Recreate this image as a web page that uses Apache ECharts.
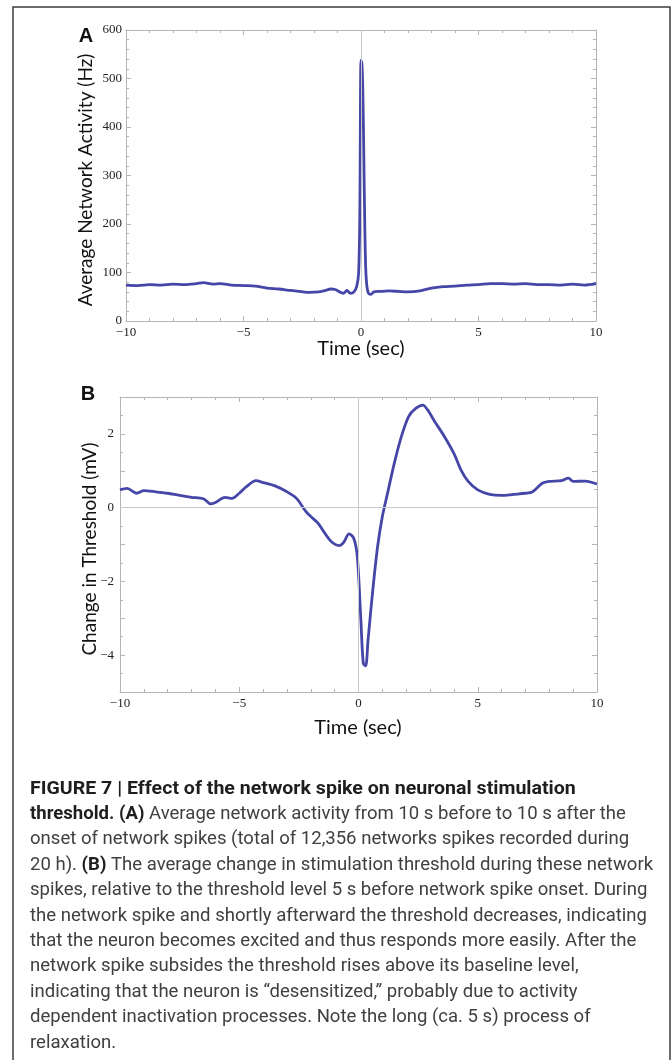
<!DOCTYPE html>
<html>
<head>
<meta charset="utf-8">
<script src="https://cdn.jsdelivr.net/npm/echarts@6/dist/echarts.min.js"></script>
<style>
  html, body { margin: 0; padding: 0; background: #fff; }
  #chart { width: 671px; height: 1060px; }
</style>
</head>
<body>
<div id="chart"></div>
<script>
// ---------- Data ----------
// Panel A: average network activity (Hz) vs time (sec)
const timeA = [-10, -9.5, -9, -8.5, -8, -7.5, -7, -6.7, -6.3, -6, -5.5, -5, -4.5, -4, -3.5, -3, -2.6, -2.2, -1.8, -1.5, -1.3, -1.1, -0.9, -0.75, -0.6, -0.45, -0.3, -0.18, -0.1, -0.05, 0, 0.04, 0.08, 0.12, 0.16, 0.2, 0.25, 0.32, 0.42, 0.55, 0.8, 1.2, 1.6, 2, 2.5, 3, 3.5, 4, 4.5, 5, 5.5, 6, 6.5, 7, 7.5, 8, 8.5, 9, 9.5, 10];
const activityA = [74, 73, 75, 74, 76, 75, 77, 79, 76, 77, 74, 73, 72, 68, 66, 63, 61, 59, 60, 63, 66, 65, 60, 57, 63, 57, 60, 72, 100, 220, 538, 530, 470, 340, 200, 110, 72, 57, 55, 60, 61, 62, 61, 60, 62, 68, 71, 72, 74, 75, 77, 77, 76, 77, 75, 75, 74, 76, 74, 77];

// Panel B: change in threshold (mV) vs time (sec)
const timeB = [-10, -9.7, -9.3, -9, -8.5, -8, -7.5, -7, -6.5, -6.2, -6, -5.6, -5.3, -5, -4.7, -4.3, -4, -3.5, -3, -2.6, -2.2, -2, -1.7, -1.5, -1.2, -1, -0.8, -0.6, -0.4, -0.2, -0.05, 0.1, 0.2, 0.3, 0.4, 0.6, 0.8, 1, 1.2, 1.5, 1.8, 2.1, 2.4, 2.7, 2.9, 3.2, 3.6, 4, 4.3, 4.6, 5, 5.5, 6, 6.5, 7, 7.3, 7.7, 8, 8.5, 8.8, 9, 9.5, 10];
const thresholdB = [0.48, 0.52, 0.39, 0.46, 0.43, 0.39, 0.33, 0.28, 0.24, 0.1, 0.14, 0.28, 0.25, 0.39, 0.57, 0.73, 0.68, 0.59, 0.43, 0.25, -0.11, -0.24, -0.42, -0.61, -0.88, -0.99, -1.03, -0.92, -0.71, -0.83, -1.33, -3.05, -4.22, -4.29, -3.59, -2.23, -1.06, -0.24, 0.34, 1.2, 1.93, 2.47, 2.69, 2.78, 2.65, 2.33, 1.93, 1.47, 1.02, 0.71, 0.48, 0.36, 0.33, 0.36, 0.39, 0.43, 0.66, 0.71, 0.73, 0.8, 0.71, 0.72, 0.64];

// Axis ranges / ticks
const xRange = [-10, 10];
const xStep = 5;
const yRangeA = [0, 600];
const yStepA = 100;
const yRangeB = [-5, 3];
const yStepB = 1;          // tick step; labels shown every 2
const yLabelStepB = 2;

// Text
const panelLetters = ['A', 'B'];
const xTitle = 'Time (sec)';
const yTitleA = 'Average Network Activity (Hz)';
const yTitleB = 'Change in Threshold (mV)';
const captionLines = [
  '{h|FIGURE 7 | Effect of the network spike on neuronal stimulation}',
  '{b|threshold. (A)} Average network activity from 10 s before to 10 s after the',
  'onset of network spikes (total of 12,356 networks spikes recorded during',
  '20 h). {b|(B)} The average change in stimulation threshold during these network',
  'spikes, relative to the threshold level 5 s before network spike onset. During',
  'the network spike and shortly afterward the threshold decreases, indicating',
  'that the neuron becomes excited and thus responds more easily. After the',
  'network spike subsides the threshold rises above its baseline level,',
  'indicating that the neuron is \u201Cdesensitized,\u201D probably due to activity',
  'dependent inactivation processes. Note the long (ca. 5 s) process of',
  'relaxation.'
];

// ---------- Styles ----------
const LINE_COLOR = '#4646a8';
const FRAME_COLOR = '#b5b5b5';
const LABEL_FONT = '"Liberation Serif", "DejaVu Serif", serif';
const TITLE_FONT = 'Lato, "Open Sans", sans-serif';
const CAPTION_FONT = 'Roboto, "Liberation Sans", sans-serif';

const fmt = v => String(v).replace('-', '\u2212');
const fmtB = v => (Math.round(v) % yLabelStepB === 0 ? fmt(v) : '');

function axisBase(extra) {
  return Object.assign({
    type: 'value',
    axisLine: { show: true, onZero: false, lineStyle: { color: FRAME_COLOR, width: 1 } },
    axisTick: { show: true, inside: true, length: 5, lineStyle: { color: FRAME_COLOR } },
    splitLine: { show: false }
  }, extra);
}
function labelStyle(formatter, margin) {
  return { show: true, margin, fontFamily: LABEL_FONT, fontSize: 13, color: '#222', formatter };
}

const xs = [];
[0, 1].forEach(g => {
  const common = { gridIndex: g, min: xRange[0], max: xRange[1], interval: xStep,
    minorTick: { show: true, splitNumber: 5, length: 3, lineStyle: { color: FRAME_COLOR } } };
  xs.push(axisBase(Object.assign({}, common, { position: 'bottom', axisLabel: labelStyle(fmt, 5) })));
  xs.push(axisBase(Object.assign({}, common, { position: 'top', axisLabel: { show: false } })));
});
const ys = [];
{
  const commonA = { gridIndex: 0, min: yRangeA[0], max: yRangeA[1], interval: yStepA,
    minorTick: { show: true, splitNumber: 5, length: 3, lineStyle: { color: FRAME_COLOR } } };
  ys.push(axisBase(Object.assign({}, commonA, { position: 'left', axisLabel: labelStyle(fmt, 4) })));
  ys.push(axisBase(Object.assign({}, commonA, { position: 'right', axisLabel: { show: false } })));
  const commonB = { gridIndex: 1, min: yRangeB[0], max: yRangeB[1], interval: yStepB,
    minorTick: { show: true, splitNumber: 2, length: 3, lineStyle: { color: FRAME_COLOR } } };
  ys.push(axisBase(Object.assign({}, commonB, { position: 'left', axisLabel: labelStyle(fmtB, 6) })));
  ys.push(axisBase(Object.assign({}, commonB, { position: 'right', axisLabel: { show: false } })));
}

const zeroLine = { color: '#c8c8c8', width: 1, type: 'solid' };

const captionGraphics = captionLines.map((line, i) => ({
  type: 'text', x: 30, y: 789 + i * 25.4, scaleX: 1.03, silent: true,
  style: {
    text: line, verticalAlign: 'middle', align: 'left',
    fontFamily: CAPTION_FONT, fontSize: 18, fill: '#404040',
    rich: {
      h: { fontFamily: CAPTION_FONT, fontSize: 19, fontWeight: 'bold', fill: '#1e1e1e' },
      b: { fontFamily: CAPTION_FONT, fontSize: 18, fontWeight: 'bold', fill: '#1e1e1e' }
    }
  }
}));

const option = {
  animation: false,
  backgroundColor: '#ffffff',
  grid: [
    { left: 126, right: 75, top: 30, height: 291 },
    { left: 120, right: 74, top: 397, height: 295 }
  ],
  xAxis: xs,
  yAxis: ys,
  series: [
    {
      type: 'line', xAxisIndex: 0, yAxisIndex: 0,
      data: timeA.map((t, i) => [t, activityA[i]]),
      showSymbol: false, smooth: 0.3, lineStyle: { color: LINE_COLOR, width: 2.8 },
      markLine: { silent: true, symbol: 'none', label: { show: false }, lineStyle: zeroLine,
        data: [{ xAxis: 0 }] },
      z: 3
    },
    {
      type: 'line', xAxisIndex: 2, yAxisIndex: 2,
      data: timeB.map((t, i) => [t, thresholdB[i]]),
      showSymbol: false, smooth: 0.3, lineStyle: { color: LINE_COLOR, width: 2.8 },
      markLine: { silent: true, symbol: 'none', label: { show: false }, lineStyle: zeroLine,
        data: [{ xAxis: 0 }, { yAxis: 0 }] },
      z: 3
    }
  ],
  graphic: [
    // figure frame (top, left, right)
    { type: 'polyline', silent: true, shape: { points: [[13, 1060], [13, 7], [670, 7], [670, 1060]] },
      style: { stroke: '#3c3c3c', lineWidth: 1.5, fill: null } },
    // panel letters
    { type: 'text', x: 86, y: 36, style: { text: panelLetters[0], align: 'center', verticalAlign: 'middle',
      fontFamily: 'Liberation Sans, Arial, sans-serif', fontWeight: 'bold', fontSize: 20, fill: '#111' } },
    { type: 'text', x: 88, y: 394, style: { text: panelLetters[1], align: 'center', verticalAlign: 'middle',
      fontFamily: 'Liberation Sans, Arial, sans-serif', fontWeight: 'bold', fontSize: 20, fill: '#111' } },
    // axis titles
    { type: 'text', x: 361, y: 349, style: { text: xTitle, align: 'center', verticalAlign: 'middle',
      fontFamily: TITLE_FONT, fontSize: 20, fill: '#111' } },
    { type: 'text', x: 358, y: 728, style: { text: xTitle, align: 'center', verticalAlign: 'middle',
      fontFamily: TITLE_FONT, fontSize: 20, fill: '#111' } },
    { type: 'text', x: 86, y: 180, rotation: Math.PI / 2, style: { text: yTitleA, align: 'center', verticalAlign: 'middle',
      fontFamily: TITLE_FONT, fontSize: 19, fill: '#111' } },
    { type: 'text', x: 90, y: 549, rotation: Math.PI / 2, style: { text: yTitleB, align: 'center', verticalAlign: 'middle',
      fontFamily: TITLE_FONT, fontSize: 19, fill: '#111' } }
  ].concat(captionGraphics)
};

const chart = echarts.init(document.getElementById('chart'), null, { renderer: 'canvas' });
chart.setOption(option);
</script>
</body>
</html>
